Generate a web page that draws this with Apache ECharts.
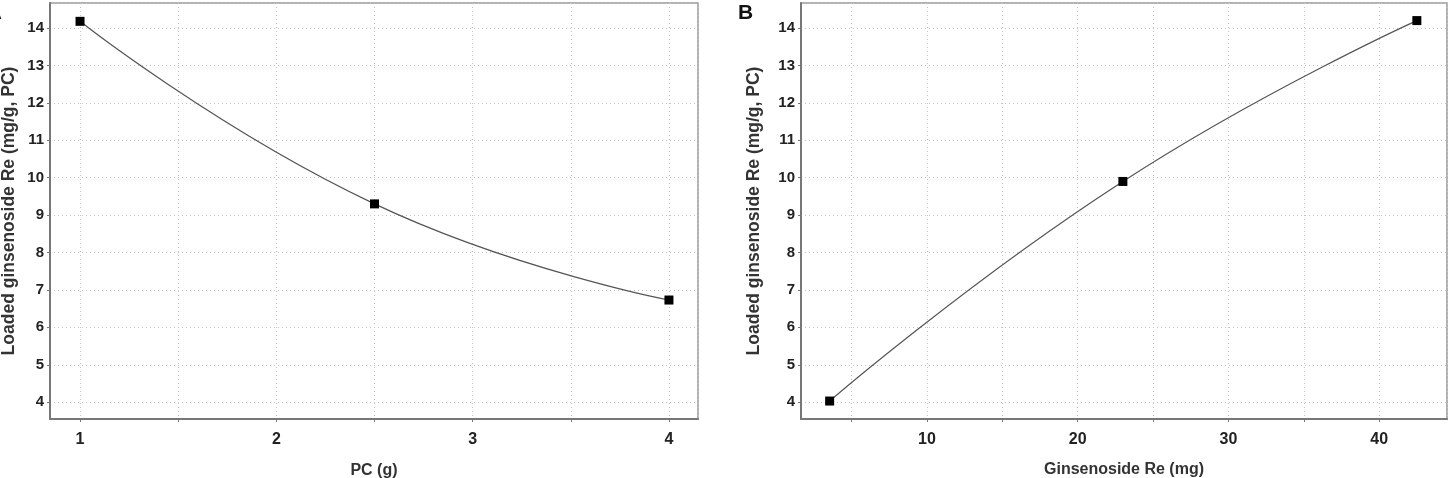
<!DOCTYPE html>
<html>
<head>
<meta charset="utf-8">
<script src="https://cdn.jsdelivr.net/npm/echarts@6/dist/echarts.min.js"></script>
<style>
  html, body { margin: 0; padding: 0; background: #fff; }
  #chart { width: 1453px; height: 478px; }
</style>
</head>
<body>
<div id="chart"></div>
<script>
// panel A: PC amount vs loaded Re
const pcGrams = [1, 2.5, 4];
const loadedByPc = [14.18, 9.3, 6.73];
// panel B: Re amount vs loaded Re
const reMg = [3.55, 23.0, 42.5];
const loadedByRe = [4.03, 9.9, 14.2];

const yName = 'Loaded ginsenoside Re (mg/g, PC)';
const fontFam = '"Liberation Sans", Arial, sans-serif';

const toPairs = (xs, ys) => xs.map((x, i) => [x, ys[i]]);

const gridLine = { show: true, lineStyle: { color: '#c4c4c4', type: [1, 3], width: 1 } };
const axisLine = { show: true, onZero: false, lineStyle: { color: '#777', width: 2 } };
const tick = { show: true, inside: false, length: 3, lineStyle: { color: '#777' } };

const makeY = (idx, gap) => ({
  type: 'value', gridIndex: idx,
  min: 3.55, max: 14.67,
  minInterval: 1, maxInterval: 1,
  name: yName, nameLocation: 'middle', nameGap: gap,
  nameTextStyle: { fontFamily: fontFam, fontWeight: 'bold', fontSize: 17.5, color: '#333' },
  axisLine: axisLine, axisTick: tick, splitLine: gridLine,
  axisLabel: {
    margin: 6, showMinLabel: false, showMaxLabel: false,
    fontFamily: fontFam, fontWeight: 'bold', fontSize: 15, color: '#222'
  }
});

const myChart = echarts.init(document.getElementById('chart'));
myChart.setOption({
  animation: false,
  grid: [
    { left: 50, top: 3, width: 648, height: 416, outerBoundsMode: 'none', containLabel: false,
      show: true, borderColor: '#999', borderWidth: 1.5 },
    { left: 801, top: 3, width: 646, height: 416, outerBoundsMode: 'none', containLabel: false,
      show: true, borderColor: '#999', borderWidth: 1.5 }
  ],
  xAxis: [
    {
      type: 'value', gridIndex: 0,
      min: 0.847, max: 4.148,
      minInterval: 0.5, maxInterval: 0.5,
      name: 'PC (g)', nameLocation: 'middle', nameGap: 44,
      nameTextStyle: { fontFamily: fontFam, fontWeight: 'bold', fontSize: 16, color: '#333' },
      axisLine: axisLine, axisTick: tick, splitLine: gridLine,
      axisLabel: {
        margin: 13, showMinLabel: false, showMaxLabel: false,
        fontFamily: fontFam, fontWeight: 'bold', fontSize: 16, color: '#222',
        formatter: v => (Math.abs(v - Math.round(v)) < 1e-6 ? String(Math.round(v)) : '')
      }
    },
    {
      type: 'value', gridIndex: 1,
      min: 1.65, max: 44.5,
      minInterval: 5, maxInterval: 5,
      name: 'Ginsenoside Re (mg)', nameLocation: 'middle', nameGap: 43,
      nameTextStyle: { fontFamily: fontFam, fontWeight: 'bold', fontSize: 16, color: '#333' },
      axisLine: axisLine, axisTick: tick, splitLine: gridLine,
      axisLabel: {
        margin: 13, showMinLabel: false, showMaxLabel: false,
        fontFamily: fontFam, fontWeight: 'bold', fontSize: 16, color: '#222',
        formatter: v => (Math.abs(v % 10) < 1e-6 ? String(Math.round(v)) : '')
      }
    }
  ],
  yAxis: [makeY(0, 32), makeY(1, 38)],
  series: [
    {
      type: 'line', xAxisIndex: 0, yAxisIndex: 0,
      data: toPairs(pcGrams, loadedByPc),
      smooth: 0.5,
      symbol: 'rect', symbolSize: 9,
      itemStyle: { color: '#000' },
      lineStyle: { color: '#555', width: 1.2 }
    },
    {
      type: 'line', xAxisIndex: 1, yAxisIndex: 1,
      data: toPairs(reMg, loadedByRe),
      smooth: 0.5,
      symbol: 'rect', symbolSize: 9,
      itemStyle: { color: '#000' },
      lineStyle: { color: '#555', width: 1.2 }
    }
  ],
  graphic: [
    { type: 'text', left: 738, top: 3, style: { text: 'B', font: 'bold 21px ' + fontFam, fill: '#111' } },
    { type: 'text', right: 1451, top: 3, style: { text: 'A', font: 'bold 21px ' + fontFam, fill: '#111' } }
  ]
});
window.onresize = function () {
  myChart.resize();
};
</script>
</body>
</html>
